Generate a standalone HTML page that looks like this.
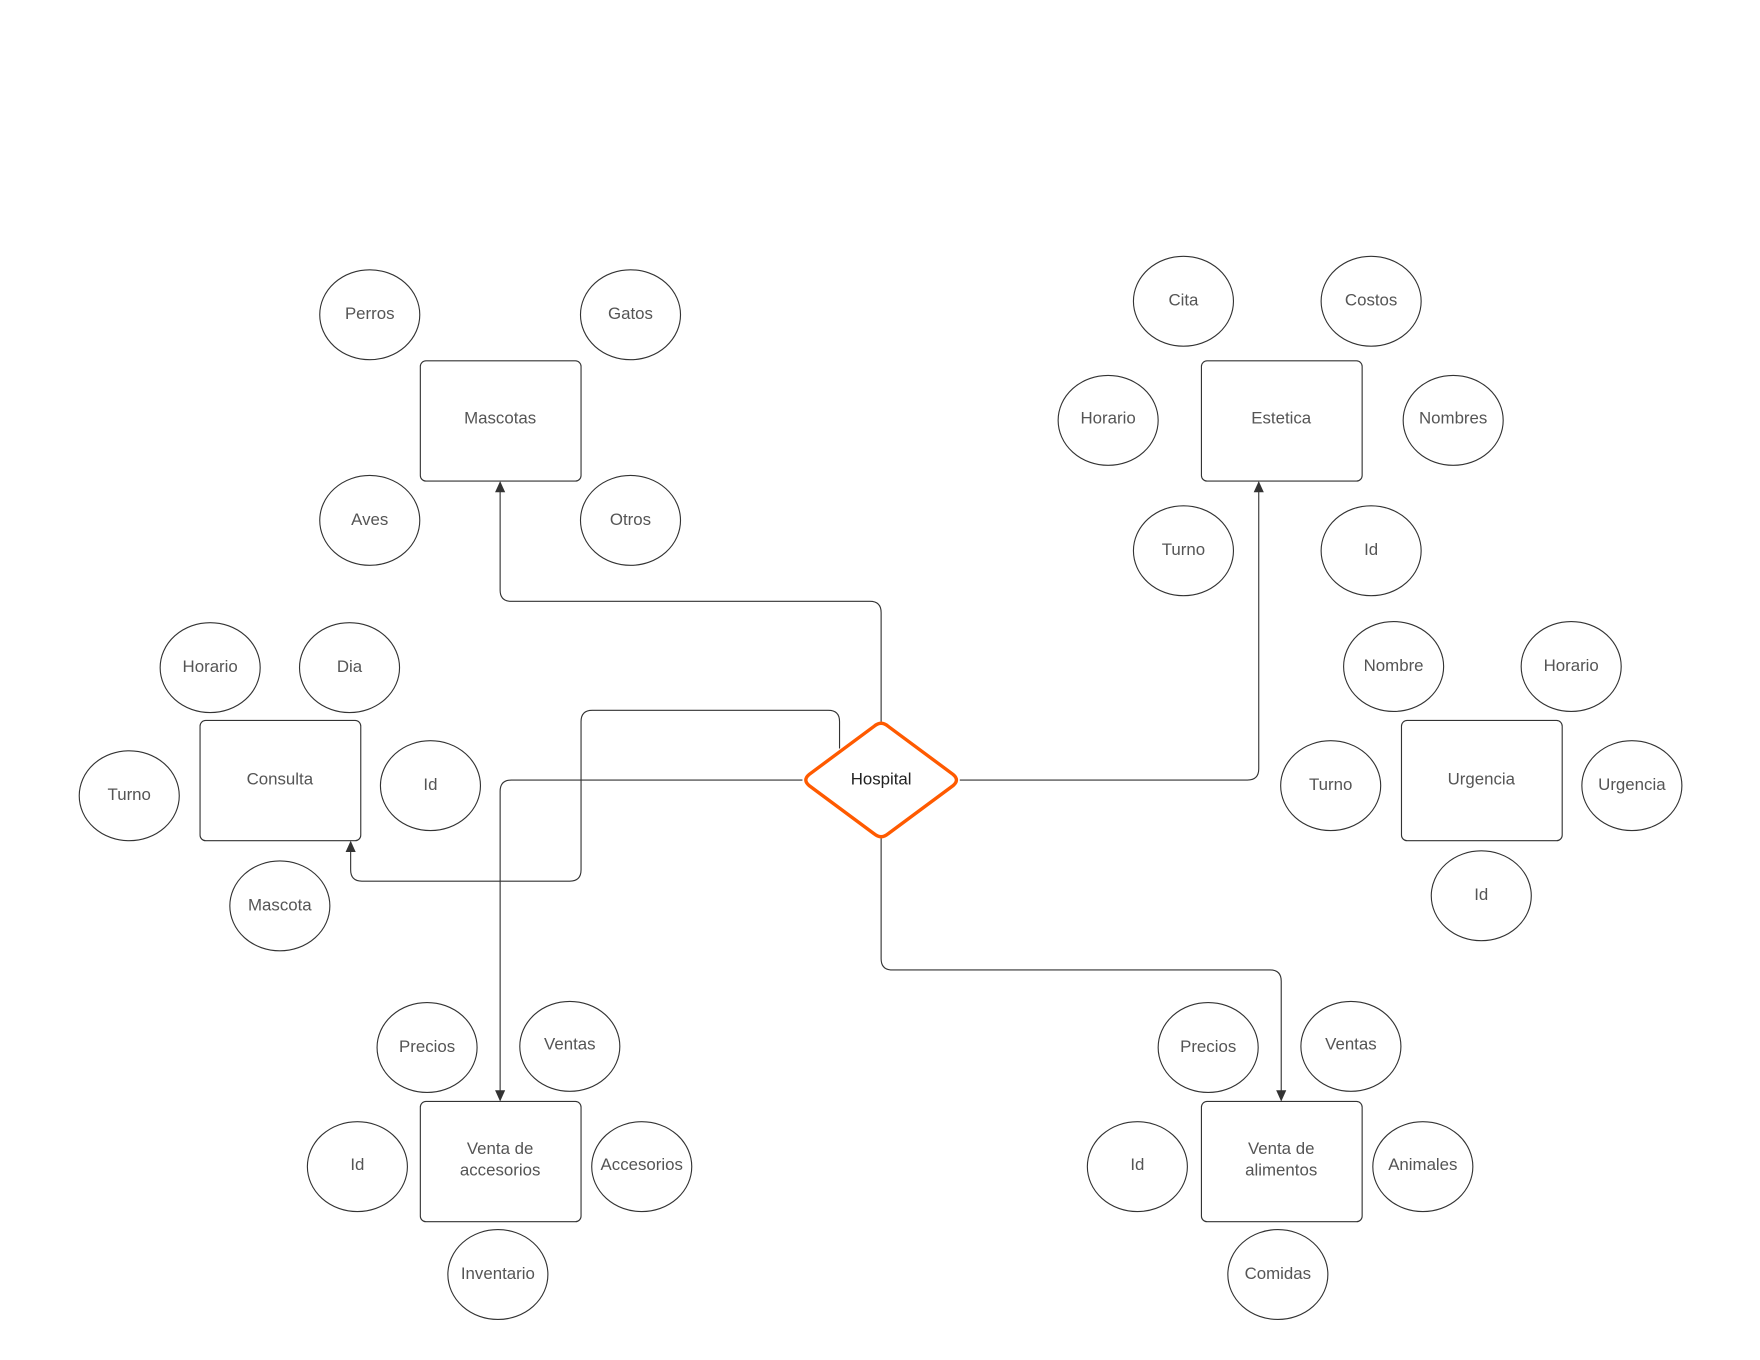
<!DOCTYPE html>
<html><head><meta charset="utf-8"><style>
html,body{margin:0;padding:0;background:#fff;}
svg{display:block;}
text{font-family:"Liberation Sans",Arial,sans-serif;font-size:15px;fill:#555;text-anchor:middle;dominant-baseline:central;}
.e,.r{fill:#fff;stroke:#333;stroke-width:1;}
.c{fill:none;stroke:#333;stroke-width:1;}
</style></head><body>
<svg width="1760" height="1360" viewBox="0 0 1566 1210" xmlns="http://www.w3.org/2000/svg">
<rect x="0" y="0" width="1566" height="1210" fill="#fff"/>
<defs><marker id="a" markerWidth="10" markerHeight="10" refX="9" refY="5" orient="auto" markerUnits="userSpaceOnUse"><path d="M0,0.5 L10,5 L0,9.5 Z" fill="#333"/></marker></defs>
<!-- connectors -->
<path class="c" d="M784,642 V545 Q784,535 774,535 H455 Q445,535 445,525 V429" marker-end="url(#a)"/>
<path class="c" d="M854,694 H1110 Q1120,694 1120,684 V429" marker-end="url(#a)"/>
<path class="c" d="M714,694 H455 Q445,694 445,704 V979" marker-end="url(#a)"/>
<path class="c" d="M747,666 V642 Q747,632 737,632 H527 Q517,632 517,642 V774 Q517,784 507,784 H322 Q312,784 312,774 V749" marker-end="url(#a)"/>
<path class="c" d="M784,746 V853 Q784,863 794,863 H1130 Q1140,863 1140,873 V979" marker-end="url(#a)"/>
<!-- diamond -->
<path d="M778,646 Q784,641 790,646 L848,689 Q854,694 848,699 L790,742 Q784,747 778,742 L720,699 Q714,694 720,689 Z" fill="#fff" stroke="#FF5A00" stroke-width="3"/>
<text x="784" y="693" style="fill:#222">Hospital</text>
<!-- rects -->
<rect class="r" x="374" y="321" width="143" height="107" rx="5"/><text x="445" y="372">Mascotas</text>
<rect class="r" x="1069" y="321" width="143" height="107" rx="5"/><text x="1140" y="372">Estetica</text>
<rect class="r" x="178" y="641" width="143" height="107" rx="5"/><text x="249" y="693">Consulta</text>
<rect class="r" x="1247" y="641" width="143" height="107" rx="5"/><text x="1318" y="693">Urgencia</text>
<rect class="r" x="374" y="980" width="143" height="107" rx="5"/><text x="445" y="1022">Venta de</text><text x="445" y="1041">accesorios</text>
<rect class="r" x="1069" y="980" width="143" height="107" rx="5"/><text x="1140" y="1022">Venta de</text><text x="1140" y="1041">alimentos</text>
<!-- ellipses -->
<g>
<ellipse class="e" cx="329" cy="280" rx="44.5" ry="40"/><text x="329" y="279">Perros</text>
<ellipse class="e" cx="561" cy="280" rx="44.5" ry="40"/><text x="561" y="279">Gatos</text>
<ellipse class="e" cx="329" cy="463" rx="44.5" ry="40"/><text x="329" y="462">Aves</text>
<ellipse class="e" cx="561" cy="463" rx="44.5" ry="40"/><text x="561" y="462">Otros</text>

<ellipse class="e" cx="1053" cy="268" rx="44.5" ry="40"/><text x="1053" y="267">Cita</text>
<ellipse class="e" cx="1220" cy="268" rx="44.5" ry="40"/><text x="1220" y="267">Costos</text>
<ellipse class="e" cx="986" cy="374" rx="44.5" ry="40"/><text x="986" y="372">Horario</text>
<ellipse class="e" cx="1293" cy="374" rx="44.5" ry="40"/><text x="1293" y="372">Nombres</text>
<ellipse class="e" cx="1053" cy="490" rx="44.5" ry="40"/><text x="1053" y="489">Turno</text>
<ellipse class="e" cx="1220" cy="490" rx="44.5" ry="40"/><text x="1220" y="489">Id</text>

<ellipse class="e" cx="187" cy="594" rx="44.5" ry="40"/><text x="187" y="593">Horario</text>
<ellipse class="e" cx="311" cy="594" rx="44.5" ry="40"/><text x="311" y="593">Dia</text>
<ellipse class="e" cx="115" cy="708" rx="44.5" ry="40"/><text x="115" y="707">Turno</text>
<ellipse class="e" cx="383" cy="699" rx="44.5" ry="40"/><text x="383" y="698">Id</text>
<ellipse class="e" cx="249" cy="806" rx="44.5" ry="40"/><text x="249" y="805">Mascota</text>

<ellipse class="e" cx="1240" cy="593" rx="44.5" ry="40"/><text x="1240" y="592">Nombre</text>
<ellipse class="e" cx="1398" cy="593" rx="44.5" ry="40"/><text x="1398" y="592">Horario</text>
<ellipse class="e" cx="1184" cy="699" rx="44.5" ry="40"/><text x="1184" y="698">Turno</text>
<ellipse class="e" cx="1452" cy="699" rx="44.5" ry="40"/><text x="1452" y="698">Urgencia</text>
<ellipse class="e" cx="1318" cy="797" rx="44.5" ry="40"/><text x="1318" y="796">Id</text>

<ellipse class="e" cx="380" cy="932" rx="44.5" ry="40"/><text x="380" y="931">Precios</text>
<ellipse class="e" cx="507" cy="931" rx="44.5" ry="40"/><text x="507" y="929">Ventas</text>
<ellipse class="e" cx="318" cy="1038" rx="44.5" ry="40"/><text x="318" y="1036">Id</text>
<ellipse class="e" cx="571" cy="1038" rx="44.5" ry="40"/><text x="571" y="1036">Accesorios</text>
<ellipse class="e" cx="443" cy="1134" rx="44.5" ry="40"/><text x="443" y="1133">Inventario</text>

<ellipse class="e" cx="1075" cy="932" rx="44.5" ry="40"/><text x="1075" y="931">Precios</text>
<ellipse class="e" cx="1202" cy="931" rx="44.5" ry="40"/><text x="1202" y="929">Ventas</text>
<ellipse class="e" cx="1012" cy="1038" rx="44.5" ry="40"/><text x="1012" y="1036">Id</text>
<ellipse class="e" cx="1266" cy="1038" rx="44.5" ry="40"/><text x="1266" y="1036">Animales</text>
<ellipse class="e" cx="1137" cy="1134" rx="44.5" ry="40"/><text x="1137" y="1133">Comidas</text>
</g>
</svg>
</body></html>
